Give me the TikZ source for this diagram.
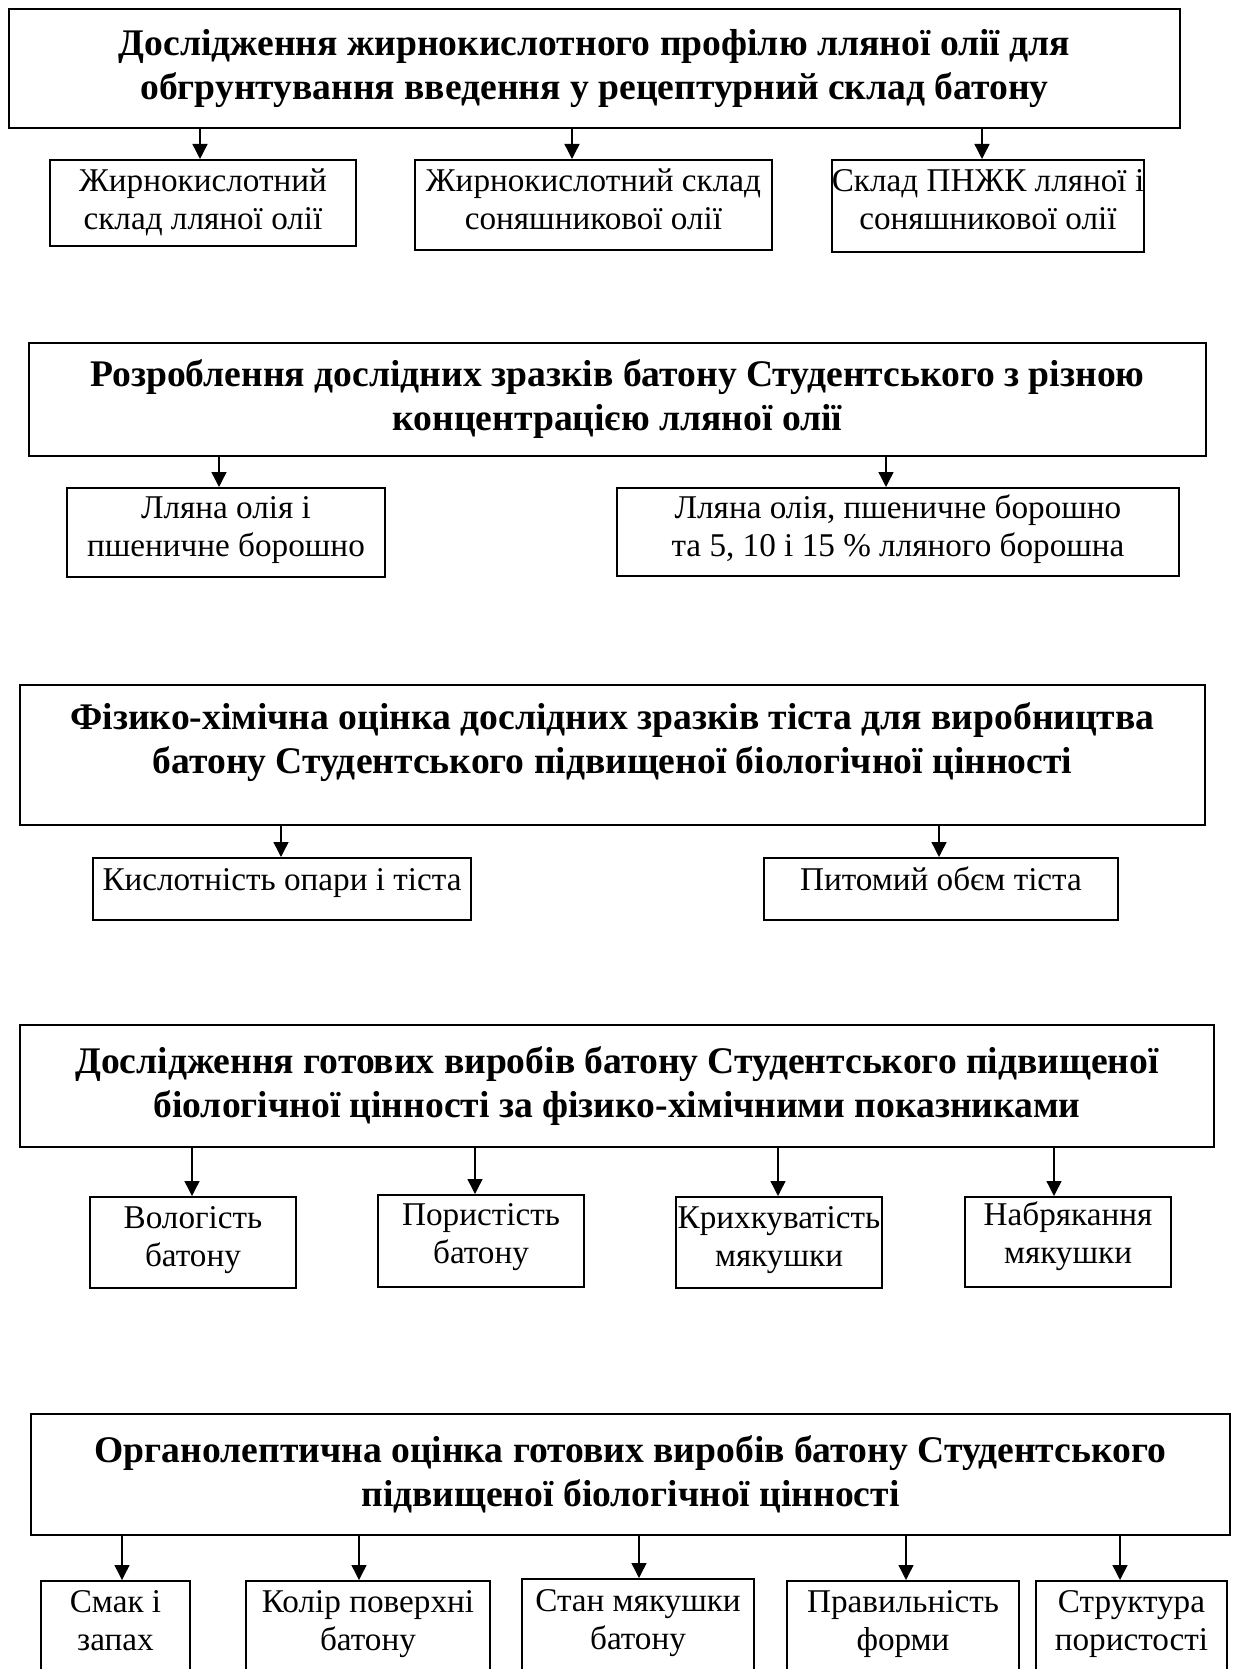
\documentclass[tikz,border=0pt]{standalone}
\usepackage{fontspec}
\setmainfont{Liberation Serif}
\usetikzlibrary{arrows.meta}
\newcommand{\headfont}{\fontsize{18.8}{22}\selectfont\bfseries}
\newcommand{\itemfont}{\fontsize{16.6}{19}\selectfont}
\tikzset{
  headbox/.style={draw,line width=1pt,inner sep=0pt,align=center,font=\headfont},
  itembox/.style={draw,line width=1pt,inner sep=0pt,align=center,font=\itemfont,
    text height=30pt,text depth=6pt},
  oneline/.style={text height=12pt,text depth=11pt},
  sz/.style 2 args={minimum width=#1*0.5pt,minimum height=#2*0.5pt},
  link/.style={-{Triangle[length=7.5pt,width=7.5pt]},line width=0.7pt}
}
\begin{document}
\begin{tikzpicture}[x=0.5pt,y=-0.5pt]
    \useasboundingbox (0,0) rectangle (1232,1669);
    \clip (0,0) rectangle (1232,1669);
    % Block 1
    \node[headbox,sz={1171}{119}] (h1) at (594.5,68.5)
      {Дослідження жирнокислотного профілю лляної олії для\\
       обгрунтування введення у рецептурний склад батону};
    \node[itembox,sz={306}{86},text depth=3pt] (c11) at (203,203)
      {Жирнокислотний\\склад лляної олії};
    \node[itembox,sz={357}{90},text depth=5pt] (c12) at (593.5,205)
      {Жирнокислотний склад\\соняшникової олії};
    \node[itembox,sz={310}{92},text depth=6pt] (c13) at (988,206)
      {Склад ПНЖК лляної і\\соняшникової олії};
    \draw[link] (h1.south -| 200,0) -- (c11.north -| 200,0);
    \draw[link] (h1.south -| 572,0) -- (c12.north -| 572,0);
    \draw[link] (h1.south -| 982,0) -- (c13.north -| 982,0);
    % Block 2
    \node[headbox,sz={1177}{113}] (h2) at (617.5,399.5)
      {Розроблення дослідних зразків батону Студентського з різною\\
       концентрацією лляної олії};
    \node[itembox,sz={318}{89}] (c21) at (226,532.5)
      {Лляна олія і\\пшеничне борошно};
    \node[itembox,sz={562}{88}] (c22) at (898,532)
      {Лляна олія, пшеничне борошно\\та 5, 10 і 15 \% лляного борошна};
    \draw[link] (h2.south -| 219,0) -- (c21.north -| 219,0);
    \draw[link] (h2.south -| 886,0) -- (c22.north -| 886,0);
    % Block 3
    \node[headbox,sz={1185}{140},text depth=17pt] (h3) at (612.5,755)
      {Фізико-хімічна оцінка дослідних зразків тіста для виробництва\\
       батону Студентського підвищеної біологічної цінності};
    \node[itembox,oneline,sz={378}{62}] (c31) at (282,889)
      {Кислотність опари і тіста};
    \node[itembox,oneline,sz={354}{62}] (c32) at (941,889)
      {Питомий обєм тіста};
    \draw[link] (h3.south -| 281,0) -- (c31.north -| 281,0);
    \draw[link] (h3.south -| 939,0) -- (c32.north -| 939,0);
    % Block 4
    \node[headbox,sz={1194}{122}] (h4) at (617,1086)
      {Дослідження готових виробів батону Студентського підвищеної\\
       біологічної цінності за фізико-хімічними показниками};
    \node[itembox,sz={206}{91}] (c41) at (193,1242.5)
      {Вологість\\батону};
    \node[itembox,sz={206}{92},text depth=8pt] (c42) at (481,1241)
      {Пористість\\батону};
    \node[itembox,sz={206}{91}] (c43) at (779,1242.5)
      {Крихкуватість\\мякушки};
    \node[itembox,sz={206}{90},text depth=9pt] (c44) at (1068,1242)
      {Набрякання\\мякушки};
    \draw[link] (h4.south -| 192,0) -- (c41.north -| 192,0);
    \draw[link] (h4.south -| 475,0) -- (c42.north -| 475,0);
    \draw[link] (h4.south -| 778,0) -- (c43.north -| 778,0);
    \draw[link] (h4.south -| 1054,0) -- (c44.north -| 1054,0);
    % Block 5
    \node[headbox,sz={1199}{121}] (h5) at (630.5,1474.5)
      {Органолептична оцінка готових виробів батону Студентського\\
       підвищеної біологічної цінності};
    \node[itembox,sz={149}{91}] (c51) at (115.5,1626.5)
      {Смак і\\запах};
    \node[itembox,sz={244}{91}] (c52) at (368,1626.5)
      {Колір поверхні\\батону};
    \node[itembox,sz={232}{93}] (c53) at (638,1625.5)
      {Стан мякушки\\батону};
    \node[itembox,sz={232}{91}] (c54) at (903,1626.5)
      {Правильність\\форми};
    \node[itembox,sz={191}{91}] (c55) at (1131.5,1626.5)
      {Структура\\пористості};
    \draw[link] (h5.south -| 122,0) -- (c51.north -| 122,0);
    \draw[link] (h5.south -| 359,0) -- (c52.north -| 359,0);
    \draw[link] (h5.south -| 639,0) -- (c53.north -| 639,0);
    \draw[link] (h5.south -| 906,0) -- (c54.north -| 906,0);
    \draw[link] (h5.south -| 1120,0) -- (c55.north -| 1120,0);
\end{tikzpicture}
\end{document}
